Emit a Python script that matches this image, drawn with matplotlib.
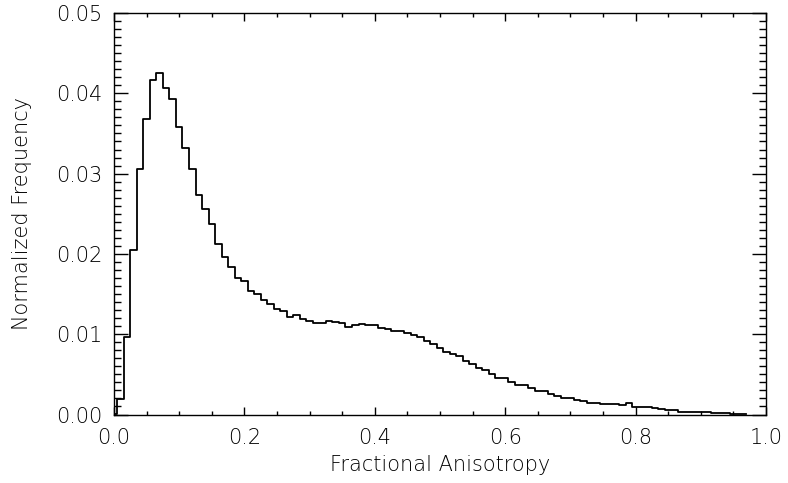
import numpy as np
import matplotlib
matplotlib.use("Agg")
import matplotlib.pyplot as plt
from matplotlib.ticker import MultipleLocator, FormatStrFormatter

# Fractional anisotropy bin centres (0.00 .. 0.97, width 0.01)
fa_bins = np.round(np.arange(0, 98) * 0.01, 2)
# Normalized frequency per bin
norm_freq = np.array([
    0.0001, 0.0019, 0.0097, 0.0205, 0.0306, 0.0368, 0.0416, 0.0425, 0.0407, 0.03925,
    0.0358, 0.03325, 0.0306, 0.0273, 0.0256, 0.02375, 0.0212, 0.0196, 0.01835, 0.0170,
    0.0166, 0.0154, 0.0150, 0.0142, 0.01375, 0.0131, 0.0129, 0.0122, 0.0124, 0.0119,
    0.0116, 0.01145, 0.01145, 0.0116, 0.0115, 0.01145, 0.01095, 0.0112, 0.0113, 0.0112,
    0.0112, 0.0108, 0.0106, 0.0104, 0.0104, 0.0101, 0.0099, 0.0097, 0.0092, 0.00875,
    0.0083, 0.0078, 0.0075, 0.0073, 0.0067, 0.0063, 0.0058, 0.0056, 0.0051, 0.0046,
    0.0046, 0.0040, 0.0037, 0.0037, 0.0033, 0.0029, 0.0029, 0.0026, 0.0023, 0.0021,
    0.0021, 0.0018, 0.0017, 0.00145, 0.00145, 0.00133, 0.00133, 0.00133, 0.00117, 0.00138,
    0.00098, 0.00096, 0.00092, 0.0008, 0.0007, 0.00058, 0.0005, 0.00037, 0.0003, 0.0003,
    0.0003, 0.0003, 0.00017, 0.00017, 0.00017, 0.00005, 0.00005, 0.00005,
])

x_label = "Fractional Anisotropy"
y_label = "Normalized Frequency"

plt.rcParams['font.family'] = ['DejaVu Sans']
plt.rcParams['font.weight'] = 'light'
plt.rcParams['axes.labelweight'] = 'light'
text_color = 'black'

fig = plt.figure(figsize=(7.88, 4.83), dpi=100)
ax = fig.add_axes([0.1447, 0.1418, 0.8274, 0.8313])

ax.step(fa_bins, norm_freq, where='mid', color='black', linewidth=1.3)

ax.set_xlim(0, 1.0)
ax.set_ylim(0, 0.05)
ax.xaxis.set_major_locator(MultipleLocator(0.2))
ax.xaxis.set_minor_locator(MultipleLocator(0.05))
ax.yaxis.set_major_locator(MultipleLocator(0.01))
ax.yaxis.set_minor_locator(MultipleLocator(0.001))
ax.xaxis.set_major_formatter(FormatStrFormatter('%.1f'))
ax.yaxis.set_major_formatter(FormatStrFormatter('%.2f'))

for s in ax.spines.values():
    s.set_linewidth(1.0)

ax.tick_params(axis='x', which='major', direction='in', length=5.8, width=1.0,
               top=True, bottom=True, pad=9.5, labelsize=15, labelcolor=text_color)
ax.tick_params(axis='x', which='minor', direction='in', length=2.9, width=1.0,
               top=True, bottom=True)
ax.tick_params(axis='y', which='major', direction='in', length=10, width=1.0,
               left=True, right=True, pad=8.5, labelsize=15, labelcolor=text_color)
ax.tick_params(axis='y', which='minor', direction='in', length=5.2, width=1.0,
               left=True, right=True)

ax.set_xlabel(x_label, fontsize=15, labelpad=5, color=text_color, fontweight='light')
ax.set_ylabel(y_label, fontsize=15, labelpad=17, color=text_color, fontweight='light')

fig.savefig("out.png", dpi=100)
